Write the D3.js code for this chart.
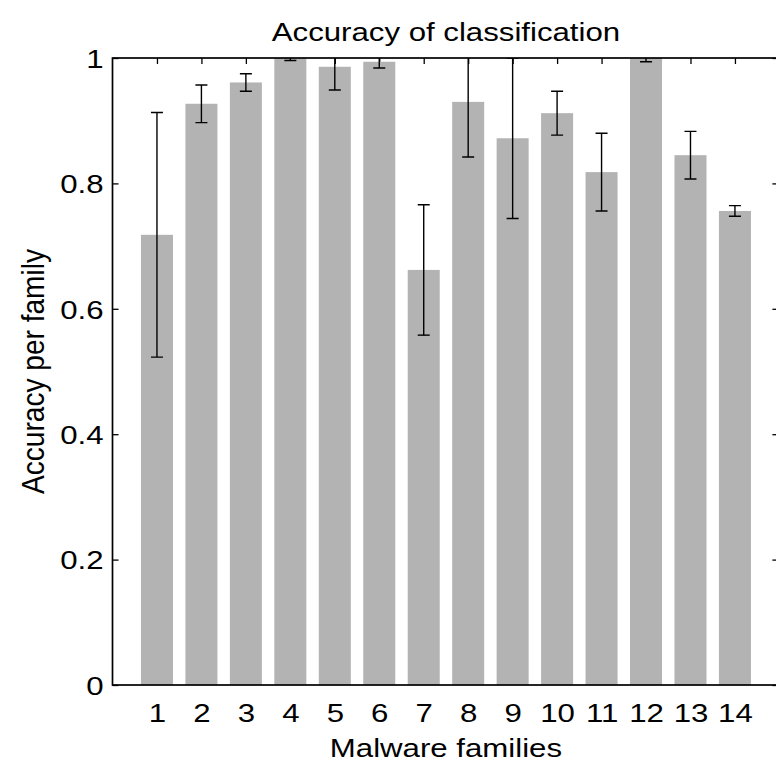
<!DOCTYPE html>
<html>
<head>
<meta charset="utf-8">
<script src="https://cdn.jsdelivr.net/npm/d3@7"></script>
<style>
  body { margin: 0; background: #fff; }
  text { font-family: "Liberation Sans", Arial, sans-serif; fill: #000; }
</style>
</head>
<body>
<div id="chart"></div>
<script>
// values
const families = [1, 2, 3, 4, 5, 6, 7, 8, 9, 10, 11, 12, 13, 14];
const accuracy = [0.718, 0.927, 0.961, 1.0, 0.986, 0.994, 0.662, 0.930, 0.872, 0.912, 0.818, 1.0, 0.845, 0.756];
const errors   = [0.195, 0.030, 0.014, 0.004, 0.037, 0.010, 0.104, 0.088, 0.128, 0.035, 0.062, 0.006, 0.038, 0.0085];
const yTicks = [0, 0.2, 0.4, 0.6, 0.8, 1];

const data = families.map((f, i) => ({family: f, acc: accuracy[i], err: errors[i]}));

const W = 776, H = 764;
const plot = {left: 112.5, right: 779.4, top: 58, bottom: 685};
const fontSize = 26;
const sx = 1.2; // the source figure's lettering is wider than it is tall

const svg = d3.select('#chart')
    .append('svg')
    .attr('width', W)
    .attr('height', H);

const x = d3.scaleLinear()
    .domain([0, 15])
    .range([plot.left, plot.right]);

const y = d3.scaleLinear()
    .domain([0, 1])
    .range([plot.bottom, plot.top]);

const barW = 0.72 * (x(1) - x(0));

svg.append('defs').append('clipPath')
    .attr('id', 'plot-clip')
    .append('rect')
    .attr('x', plot.left).attr('y', plot.top)
    .attr('width', plot.right - plot.left).attr('height', plot.bottom - plot.top);

const fmt = d => String(+d.toFixed(1));

// Left axis (labels + inward ticks)
svg.append('g')
    .attr('transform', `translate(${plot.left},0)`)
    .call(d3.axisLeft(y).tickValues(yTicks).tickSizeInner(-6).tickSizeOuter(0).tickFormat(fmt))
    .call(g => g.select('.domain').remove())
    .call(g => g.selectAll('.tick line').attr('stroke-width', 1.3))
    .call(g => g.selectAll('.tick text')
        .attr('font-size', fontSize)
        .attr('x', -9 / sx)
        .attr('dy', '0.36em')
        .attr('transform', `scale(${sx},1)`)
        .style('font-family', '"Liberation Sans", Arial, sans-serif'));

// Right axis ticks (inward)
svg.append('g')
    .attr('transform', `translate(${plot.right},0)`)
    .call(d3.axisRight(y).tickValues(yTicks).tickSizeInner(-7).tickSizeOuter(0).tickFormat(''))
    .call(g => g.select('.domain').remove())
    .call(g => g.selectAll('.tick line').attr('stroke-width', 1.3));

// Top axis ticks (inward)
svg.append('g')
    .attr('transform', `translate(0,${plot.top})`)
    .call(d3.axisTop(x).tickValues(families).tickSizeInner(-6).tickSizeOuter(0).tickFormat(''))
    .call(g => g.select('.domain').remove())
    .call(g => g.selectAll('.tick line').attr('stroke-width', 1.3));

// Bars
svg.append('g')
    .selectAll('rect')
    .data(data)
    .join('rect')
    .attr('x', d => x(d.family) - barW / 2)
    .attr('y', d => y(d.acc))
    .attr('width', barW)
    .attr('height', d => y(0) - y(d.acc))
    .attr('fill', '#b3b3b3');

// Bottom axis labels (ticks hidden behind bars)
svg.append('g')
    .attr('transform', `translate(0,${plot.bottom})`)
    .call(d3.axisBottom(x).tickValues(families).tickSize(0).tickPadding(19).tickFormat(d => d))
    .call(g => g.select('.domain').remove())
    .call(g => g.selectAll('.tick text')
        .attr('font-size', fontSize)
        .attr('dy', '0.71em')
        .attr('transform', `scale(${sx},1)`)
        .style('font-family', '"Liberation Sans", Arial, sans-serif'));

// Error bars
const capW = 12;
const eb = svg.append('g')
    .attr('clip-path', 'url(#plot-clip)')
    .attr('stroke', '#000')
    .attr('stroke-width', 1.4)
    .selectAll('g')
    .data(data)
    .join('g');

eb.append('line')
    .attr('x1', d => x(d.family)).attr('x2', d => x(d.family))
    .attr('y1', d => y(d.acc - d.err)).attr('y2', d => y(d.acc + d.err));

eb.append('line')
    .attr('x1', d => x(d.family) - capW / 2).attr('x2', d => x(d.family) + capW / 2)
    .attr('y1', d => y(d.acc - d.err)).attr('y2', d => y(d.acc - d.err));

eb.append('line')
    .attr('x1', d => x(d.family) - capW / 2).attr('x2', d => x(d.family) + capW / 2)
    .attr('y1', d => y(d.acc + d.err)).attr('y2', d => y(d.acc + d.err));

// Box
svg.append('rect')
    .attr('x', plot.left).attr('y', plot.top)
    .attr('width', plot.right - plot.left).attr('height', plot.bottom - plot.top)
    .attr('fill', 'none')
    .attr('stroke', '#000')
    .attr('stroke-width', 1.7);

const cx = (plot.left + plot.right) / 2;

// Title
svg.append('text')
    .attr('transform', `translate(${cx},41) scale(${sx},1)`)
    .attr('text-anchor', 'middle')
    .attr('font-size', fontSize)
    .text('Accuracy of classification');

// X label
svg.append('text')
    .attr('transform', `translate(${cx},757) scale(${sx},1)`)
    .attr('text-anchor', 'middle')
    .attr('font-size', fontSize)
    .text('Malware families');

// Y label
svg.append('text')
    .attr('transform', `translate(44,${(plot.top + plot.bottom) / 2}) rotate(-90) scale(1.08,${sx})`)
    .attr('text-anchor', 'middle')
    .attr('font-size', fontSize)
    .text('Accuracy per family');
</script>
</body>
</html>
